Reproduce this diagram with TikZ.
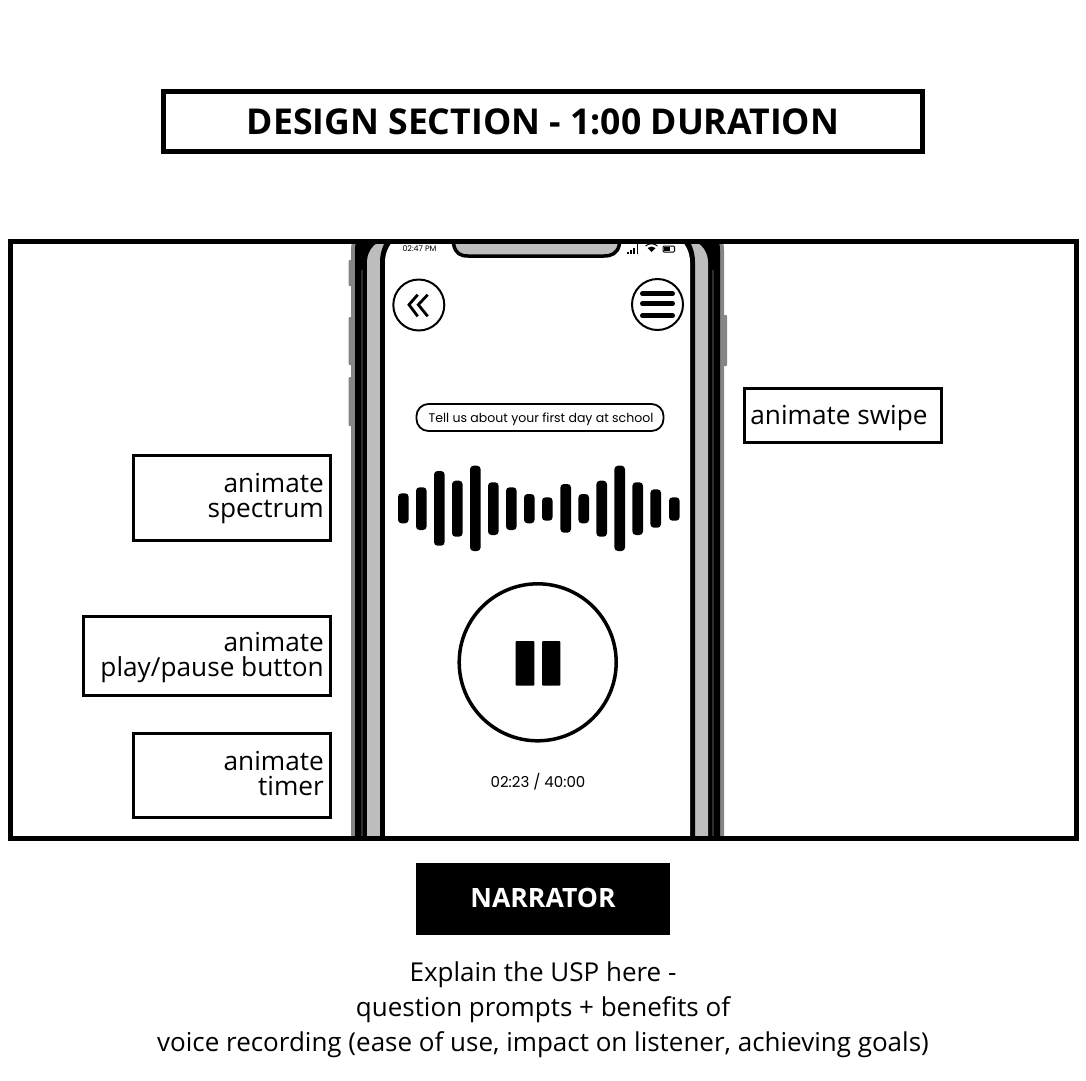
\documentclass[tikz,border=0pt]{standalone}
\usepackage{fontspec}
\setmainfont{Open Sans}
\newfontfamily\phonefont{Poppins}
\definecolor{band}{HTML}{BDBDBD}
\definecolor{edge}{HTML}{858585}
\definecolor{slit}{HTML}{2E2E2E}
\tikzset{
  x=1pt,y=-1pt,
  lblbox/.style={draw=black,line width=3pt,fill=white,inner sep=0pt,anchor=north west},
  lbltxt/.style={anchor=north east,inner sep=0pt,align=right,font=\fontsize{26.2}{25}\selectfont},
  bar/.style={fill=black,rounded corners=3.5pt},
  side/.style={fill=edge,rounded corners=1pt},
  ring/.style={draw=black,circle,fill=white,inner sep=0pt},
  menubar/.style={line width=5pt,line cap=round,draw=black},
  chev/.style={draw=black,line width=2.8pt,miter limit=10},
  caption/.style={font=\fontsize{26}{35}\selectfont,align=center},
}
\newcommand{\phonelayer}[4]{\fill[#1,rounded corners=#4pt] (#2,#3) rectangle ({1075-#2},900);}
\begin{document}
\begin{tikzpicture}
\useasboundingbox (0,0) rectangle (1086,1080);
\fill[white] (0,0) rectangle (1086,1080);
% heading
\node[draw=black,line width=5pt,minimum width=759pt,minimum height=60pt,inner sep=0pt,text height=26pt,text depth=0pt,font=\fontsize{35.6}{40}\bfseries\selectfont] (title) at (543,121.5) {DESIGN SECTION - 1:00 DURATION};
% phone
\begin{scope}
\clip (8,241) rectangle (1078,838);
\fill[side] (348.5,260) rectangle (352,286);
\fill[side] (348.5,317) rectangle (352,365);
\fill[side] (348.5,377) rectangle (352,426);
\fill[side] (723,315) rectangle (727,366);
\phonelayer{edge}{351}{220}{30}
\phonelayer{black}{355}{220}{30}
\fill[slit] (361,270) rectangle (363,838);
\fill[slit] (712,270) rectangle (714,838);
\phonelayer{band}{367}{239}{23}
\phonelayer{black}{380}{220}{42}
\phonelayer{white}{385}{231}{31}
\draw[fill=band,line width=3.5pt] (452,235) -- (454,246) .. controls (456,253) and (460,256) .. (468,256) -- (604,256) .. controls (612,256) and (617,253) .. (619,246) -- (621,235) -- cycle;
\end{scope}
% status bar
\node[font=\phonefont\fontsize{7.9}{9}\selectfont] (clock) at (419.5,248.5) {02:47 PM};
\foreach \bx/\bt in {628/252,631/250,634/248,637.5/242}{\draw[line width=1.6pt] (\bx,254) -- (\bx,\bt);}
\fill (651.5,252) -- (647.5,248) .. controls (650,246) and (653,246) .. (655.5,248) -- cycle;
\draw[line width=1pt] (645.5,246) .. controls (649,243) and (654,243) .. (657.5,246);
\draw[line width=1pt,rounded corners=1pt] (663,246) rectangle (674.5,252);
\fill (664,247) rectangle (670,251);
% top buttons
\node[ring,line width=2pt,minimum size=51pt] (back) at (418.8,305) {};
\draw[chev] (417.7,294.7) -- (409,304.7) -- (417.7,316.3);
\draw[chev] (427.7,294.7) -- (418.3,304.7) -- (427.7,316.3);
\node[ring,line width=2pt,minimum size=51pt] (menu) at (657.5,304.5) {};
\foreach \my in {293.7,303.7,315.7}{\draw[menubar] (642.5,\my) -- (672.5,\my);}
% prompt
\node[draw=black,line width=1.8pt,rounded corners=12pt,minimum width=247pt,minimum height=27pt,inner sep=0pt] (prompt) at (540,417.5) {};
\node[font=\phonefont\fontsize{12.5}{14}\selectfont,inner sep=0pt] (prompttxt) at (541,419) {Tell us about your first day at school};
% spectrum
\foreach \sx/\sa/\sb in {403.3/493.3/523.3,421.3/487.3/530,439.3/471/545.7,457.3/480.7/536.7,475.3/465.7/551,493.3/482.3/535,511.3/487.3/530,529.3/494/523.3,547.3/497.3/520.7,565.7/484/532.7,583.7/494/523.3,601.7/480.7/536.7,619.7/465.7/551,637.7/482.3/535,655.7/489.3/527.7,674.3/497.3/520.7}{
  \fill[bar] (\sx-5.3,\sa) rectangle (\sx+5.3,\sb);
}
% play button
\node[ring,line width=3.5pt,minimum size=157pt] (play) at (537.7,662.3) {};
\fill[rounded corners=1pt] (515.7,641) rectangle (534.3,685.7);
\fill[rounded corners=1pt] (542,641) rectangle (560.3,685.7);
\node[font=\phonefont\fontsize{15}{17}\selectfont] (timer) at (538,781.5) {02:23 / 40:00};
% frame
\node[draw=black,line width=5pt,minimum width=1066pt,minimum height=597pt,inner sep=0pt] (frame) at (543,539.5) {};
% labels
\node[lblbox,minimum width=197pt,minimum height=85pt] (spectrum) at (131.5,453.5) {};
\node[lbltxt] (spectrumtxt) at (324,473) {animate\\spectrum};
\node[lblbox,minimum width=247pt,minimum height=79pt] (playbox) at (81.5,614.5) {};
\node[lbltxt] (playtxt) at (324,632) {animate\\play/pause button};
\node[lblbox,minimum width=197pt,minimum height=84pt] (timerbox) at (131.5,731.5) {};
\node[lbltxt] (timertxt) at (324,751) {animate\\timer};
\node[lblbox,minimum width=197pt,minimum height=54pt] (swipe) at (742.5,386.5) {};
\node[inner sep=0pt,font=\fontsize{26.2}{28}\selectfont] (swipetxt) at (839,418) {animate swipe};
% narrator
\node[fill=black,minimum width=254pt,minimum height=72pt,inner sep=0pt] (narrator) at (543,899) {};
\node[text=white,inner sep=0pt,font=\fontsize{26.6}{30}\bfseries\selectfont] (narratortxt) at (543,897.5) {NARRATOR};
\node[caption] (notes) at (543,1010) {Explain the USP here -\\question prompts + benefits of\\voice recording (ease of use, impact on listener, achieving goals)};
\end{tikzpicture}
\end{document}
